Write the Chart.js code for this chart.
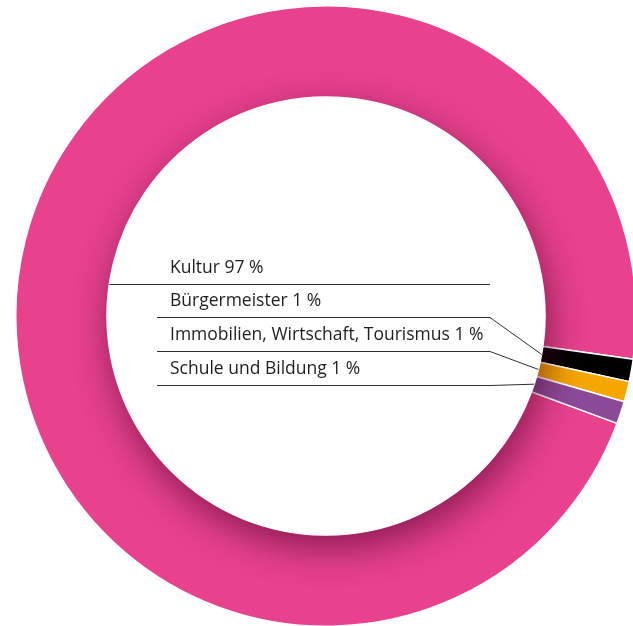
<!DOCTYPE html>
<html>
<head>
<meta charset="utf-8">
<script src="https://cdn.jsdelivr.net/npm/chart.js@4"></script>
<style>
    html, body { margin: 0; padding: 0; background: #fff; }
    body { width: 633px; height: 626px; overflow: hidden; position: relative; }
    #wrap { position: absolute; left: 15px; top: 5px; width: 622px; height: 622px; }
</style>
</head>
<body>
<div id="wrap"><canvas id="canvas"></canvas></div>
<script>
const labels = ['Kultur', 'Bürgermeister', 'Immobilien, Wirtschaft, Tourismus', 'Schule und Bildung'];
const shares = [96.6, 1.17, 1.06, 1.17];
const shareText = ['97 %', '1 %', '1 %', '1 %'];
const colors = ['#e8418e', '#000000', '#f4a700', '#8a4a98'];

// small slices start a bit below 3 o'clock
const total = shares.reduce((a, b) => a + b, 0);
const rotation = 98 - shares[0] / total * 360;

// soft shadow on the ring, cast from the hole, mostly downwards
const innerShadow = {
    id: 'innerShadow',
    afterDatasetsDraw(chart) {
        const arc = chart.getDatasetMeta(0).data[0];
        const {x, y, innerRadius, outerRadius} = arc.getProps(['x', 'y', 'innerRadius', 'outerRadius']);
        const ctx = chart.ctx;
        const far = 5000; // draw the disc off canvas, only its shadow lands
        ctx.save();
        // keep clear of the white border stroke on the inner edge
        ctx.beginPath();
        ctx.arc(x, y, outerRadius + 2, 0, Math.PI * 2);
        ctx.arc(x, y, innerRadius + 0.9, 0, Math.PI * 2, true);
        ctx.clip();
        ctx.globalCompositeOperation = 'source-atop';
        ctx.shadowColor = 'rgba(75, 0, 35, 0.62)';
        ctx.shadowBlur = 38;
        ctx.shadowOffsetX = far + 4;
        ctx.shadowOffsetY = 13;
        ctx.fillStyle = '#000';
        ctx.beginPath();
        ctx.arc(x - far, y, innerRadius, 0, Math.PI * 2);
        ctx.fill();
        ctx.restore();
    }
};

// labels inside the hole with leader lines to the slices
const leaderLabels = {
    id: 'leaderLabels',
    afterDraw(chart) {
        const meta = chart.getDatasetMeta(0);
        const first = meta.data[0];
        const cx = first.x, cy = first.y, r = first.innerRadius;
        const ctx = chart.ctx;
        ctx.save();
        ctx.font = '17.5px "Open Sans"';
        ctx.fillStyle = '#1e1e1e';
        ctx.textBaseline = 'alphabetic';
        ctx.strokeStyle = '#2e2e2e';
        ctx.lineWidth = 1;
        const elbowX = cx + 164;
        for (let i = 0; i < labels.length; i++) {
            const rowY = cy - 32.5 + i * 33.7;
            ctx.fillText(labels[i] + ' ' + shareText[i], cx - 156, rowY - 11);
            ctx.beginPath();
            if (i === 0) {
                const startX = cx - Math.sqrt(r * r - (rowY - cy) * (rowY - cy));
                ctx.moveTo(startX, Math.round(rowY) + 0.5);
                ctx.lineTo(elbowX, Math.round(rowY) + 0.5);
            } else {
                const el = meta.data[i];
                const mid = (el.startAngle + el.endAngle) / 2;
                const px = cx + Math.cos(mid) * el.innerRadius;
                const py = cy + Math.sin(mid) * el.innerRadius;
                ctx.moveTo(cx - 169, Math.round(rowY) + 0.5);
                ctx.lineTo(elbowX, Math.round(rowY) + 0.5);
                ctx.lineTo(px, py);
            }
            ctx.stroke();
        }
        ctx.restore();
    }
};

const ctx = document.getElementById('canvas').getContext('2d');
window.myDoughnut = new Chart(ctx, {
    type: 'doughnut',
    data: {
        labels: labels,
        datasets: [{
            data: shares,
            backgroundColor: colors,
            borderColor: '#ffffff',
            borderWidth: 1.5
        }]
    },
    options: {
        responsive: true,
        maintainAspectRatio: false,
        animation: false,
        cutout: '70.6%',
        rotation: rotation,
        layout: { padding: 0 },
        plugins: {
            legend: { display: false },
            tooltip: { enabled: false }
        }
    },
    plugins: [innerShadow, leaderLabels]
});
</script>
</body>
</html>
